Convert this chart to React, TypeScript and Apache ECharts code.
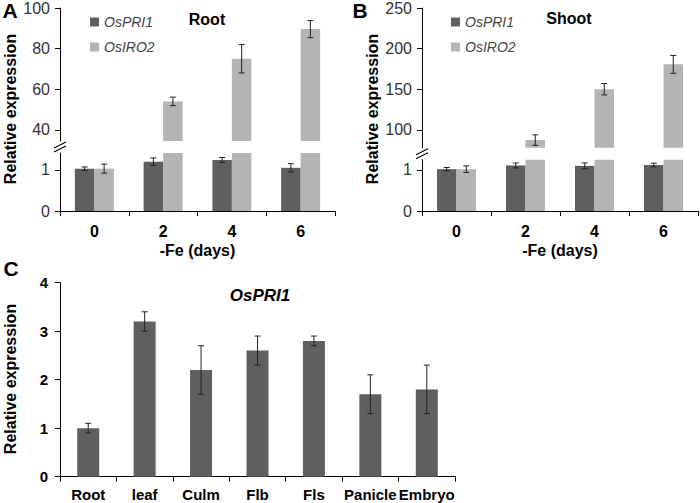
import React, { useEffect, useRef } from "react";
import * as echarts from "echarts";

const days = ["0", "2", "4", "6"];
const rootPRI1 = [1.03, 1.2, 1.24, 1.05];
const rootPRI1Err = [0.04, 0.09, 0.06, 0.1];
const rootIRO2 = [1.03, 54, 75, 89.6];
const rootIRO2Err = [0.11, 2.1, 7, 4.2];
const shootPRI1 = [1.02, 1.11, 1.1, 1.12];
const shootPRI1Err = [0.04, 0.06, 0.07, 0.045];
const shootIRO2 = [1.02, 87.4, 150, 180.6];
const shootIRO2Err = [0.08, 6.5, 7, 11];
const tissues = ["Root", "leaf", "Culm", "Flb", "Fls", "Panicle", "Embryo"];
const tissuePRI1 = [1.0, 3.2, 2.2, 2.6, 2.8, 1.7, 1.8];
const tissuePRI1Err = [0.1, 0.2, 0.5, 0.3, 0.1, 0.4, 0.5];
const rootLowTicks = [0, 1];
const rootHighTicks = [40, 60, 80, 100];
const shootLowTicks = [0, 1];
const shootHighTicks = [100, 150, 200, 250];

const DARK = "#5f5f5f";
const LIGHT = "#b4b4b4";
const FONT = "Liberation Sans";

export default function App() {
  const ref = useRef<HTMLDivElement>(null);
  useEffect(() => {
    if (!ref.current) return;
    const chart = echarts.init(ref.current, undefined, { renderer: "svg" });

    const errRender = (offset: number) => (params: any, api: any) => {
      const x = api.value(0);
      const v = api.value(1);
      const e = api.value(2);
      const t = api.coord([x, v + e]);
      const b = api.coord([x, v - e]);
      const cx = t[0] + offset;
      const cap = 3;
      const st = { stroke: "#222", lineWidth: 1 };
      return {
        type: "group",
        children: [
          { type: "line", shape: { x1: cx, y1: t[1], x2: cx, y2: b[1] }, style: st },
          { type: "line", shape: { x1: cx - cap, y1: t[1], x2: cx + cap, y2: t[1] }, style: st },
          { type: "line", shape: { x1: cx - cap, y1: b[1], x2: cx + cap, y2: b[1] }, style: st },
        ],
      };
    };

    const axisLine = { show: true, lineStyle: { color: "#000", width: 1 } };
    const axisTickY = { show: true, inside: false, length: 5, lineStyle: { color: "#000" } };

    const grids: any[] = [];
    const xAxes: any[] = [];
    const yAxes: any[] = [];
    const series: any[] = [];

    const addBroken = (
      left: number, width: number, upTop: number, upBottom: number, lowTop: number,
      lowMax: number, highMin: number, highMax: number, lowTicks: number[], highTicks: number[],
      pri: number[], priErr: number[], iro: number[], iroErr: number[], bw: number
    ) => {
      const gLow = grids.length;
      grids.push({ left, top: lowTop, width, height: 211 - lowTop });
      grids.push({ left, top: upTop, width, height: upBottom - upTop });
      const xLow = xAxes.length;
      xAxes.push({
        type: "category", gridIndex: gLow, data: days, axisLine,
        axisTick: { show: true, length: 5, lineStyle: { color: "#000" } },
        axisLabel: { color: "#000", fontFamily: FONT, fontWeight: "bold", fontSize: 16, margin: 12 },
        name: "-Fe (days)", nameLocation: "middle", nameGap: 31,
        nameTextStyle: { color: "#000", fontFamily: FONT, fontWeight: "bold", fontSize: 16 },
      });
      xAxes.push({ type: "category", gridIndex: gLow + 1, data: days, show: false });
      yAxes.push({
        type: "value", gridIndex: gLow, min: 0, max: lowMax, axisLine, axisTick: { ...axisTickY, customValues: lowTicks },
        splitLine: { show: false },
        axisLabel: { customValues: lowTicks, color: "#333", fontFamily: FONT, fontSize: 16, margin: 10 },
      });
      yAxes.push({
        type: "value", gridIndex: gLow + 1, min: highMin, max: highMax, axisLine,
        axisTick: { ...axisTickY, customValues: highTicks }, splitLine: { show: false },
        axisLabel: { customValues: highTicks, color: "#333", fontFamily: FONT, fontSize: 16, margin: 10 },
      });
      const lowIdx = xLow;
      const highIdx = xLow + 1;
      const barBase = { type: "bar", barWidth: bw, barGap: "0%", clip: true };
      series.push({ ...barBase, name: "OsPRI1", xAxisIndex: lowIdx, yAxisIndex: lowIdx, data: pri, itemStyle: { color: DARK } });
      series.push({ ...barBase, name: "OsIRO2", xAxisIndex: lowIdx, yAxisIndex: lowIdx, data: iro, itemStyle: { color: LIGHT } });
      series.push({ ...barBase, name: "OsPRI1", xAxisIndex: highIdx, yAxisIndex: highIdx, data: pri.map((v) => (v > lowMax ? v : "-")), itemStyle: { color: DARK } });
      series.push({ ...barBase, name: "OsIRO2", xAxisIndex: highIdx, yAxisIndex: highIdx, data: iro.map((v) => (v > lowMax ? v : "-")), itemStyle: { color: LIGHT } });
      const mk = (vals: number[], errs: number[], low: boolean) =>
        vals.map((v, i) => [i, v, errs[i]]).filter((d) => (low ? d[1] <= lowMax : d[1] > lowMax));
      series.push({ type: "custom", xAxisIndex: lowIdx, yAxisIndex: lowIdx, renderItem: errRender(-bw / 2), data: mk(pri, priErr, true), clip: true, z: 5 });
      series.push({ type: "custom", xAxisIndex: lowIdx, yAxisIndex: lowIdx, renderItem: errRender(bw / 2), data: mk(iro, iroErr, true), clip: true, z: 5 });
      series.push({ type: "custom", xAxisIndex: highIdx, yAxisIndex: highIdx, renderItem: errRender(bw / 2), data: mk(iro, iroErr, false), clip: true, z: 5 });
    };

    addBroken(60, 275, 7, 141, 153, 1.41, 34.5, 100, rootLowTicks, rootHighTicks, rootPRI1, rootPRI1Err, rootIRO2, rootIRO2Err, 19.5);
    addBroken(422, 276, 7, 147.7, 159.7, 1.25, 78, 250, shootLowTicks, shootHighTicks, shootPRI1, shootPRI1Err, shootIRO2, shootIRO2Err, 19.5);

    // Panel C
    const gC = grids.length;
    grids.push({ left: 60, top: 282.7, width: 395, height: 194 });
    const xC = xAxes.length;
    xAxes.push({
      type: "category", gridIndex: gC, data: tissues, axisLine,
      axisTick: { show: true, length: 5, lineStyle: { color: "#000" } },
      axisLabel: { color: "#000", fontFamily: FONT, fontWeight: "bold", fontSize: 15, margin: 10, interval: 0 },
    });
    yAxes.push({
      type: "value", gridIndex: gC, min: 0, max: 4, interval: 1, axisLine, axisTick: axisTickY,
      splitLine: { show: false },
      axisLabel: { color: "#000", fontFamily: FONT, fontWeight: "bold", fontSize: 15, margin: 12 },
    });
    series.push({ type: "bar", name: "OsPRI1C", xAxisIndex: xC, yAxisIndex: xC, data: tissuePRI1, barWidth: 22, itemStyle: { color: DARK } });
    series.push({
      type: "custom", xAxisIndex: xC, yAxisIndex: xC, renderItem: errRender(0), z: 5,
      data: tissuePRI1.map((v, i) => [i, v, tissuePRI1Err[i]]),
    });

    const brk = (x: number, c: number) => [
      { type: "line", shape: { x1: x - 6, y1: c + 1, x2: x + 6, y2: c - 5 }, style: { stroke: "#000", lineWidth: 1.2 } },
      { type: "line", shape: { x1: x - 6, y1: c + 5, x2: x + 6, y2: c - 1 }, style: { stroke: "#000", lineWidth: 1.2 } },
    ];
    const yName = (x: number, y: number) => ({
      type: "text", x, y, rotation: Math.PI / 2,
      style: { text: "Relative expression", fill: "#000", font: `bold 16px ${FONT}`, align: "center", verticalAlign: "middle" },
    });
    const txt = (x: number, y: number, text: string, font: string) => ({
      type: "text", x, y, style: { text, fill: "#000", font, align: "center", verticalAlign: "middle" },
    });

    const legendBase = {
      orient: "vertical", top: 10, itemWidth: 9, itemHeight: 9, itemGap: 11, icon: "rect",
      data: ["OsPRI1", "OsIRO2"],
      textStyle: { fontFamily: FONT, fontStyle: "italic", fontSize: 14, color: "#444" },
    };

    chart.setOption({
      animation: false,
      grid: grids,
      xAxis: xAxes,
      yAxis: yAxes,
      series,
      legend: [
        { ...legendBase, left: 85 },
        { ...legendBase, left: 446 },
      ],
      graphic: [
        ...brk(60, 147),
        ...brk(422, 153.7),
        yName(10, 109),
        yName(372, 109),
        yName(10, 379),
        txt(10, 10, "A", `bold 21px ${FONT}`),
        txt(360, 10, "B", `bold 21px ${FONT}`),
        txt(11, 268, "C", `bold 21px ${FONT}`),
        txt(207, 19, "Root", `bold 16px ${FONT}`),
        txt(569, 18, "Shoot", `bold 16px ${FONT}`),
        txt(260, 295, "OsPRI1", `italic bold 17px ${FONT}`),
      ],
    });
    return () => chart.dispose();
  }, []);
  return <div ref={ref} style={{ position: "fixed", left: 0, top: 0, width: 700, height: 503, background: "#fff" }} />;
}
